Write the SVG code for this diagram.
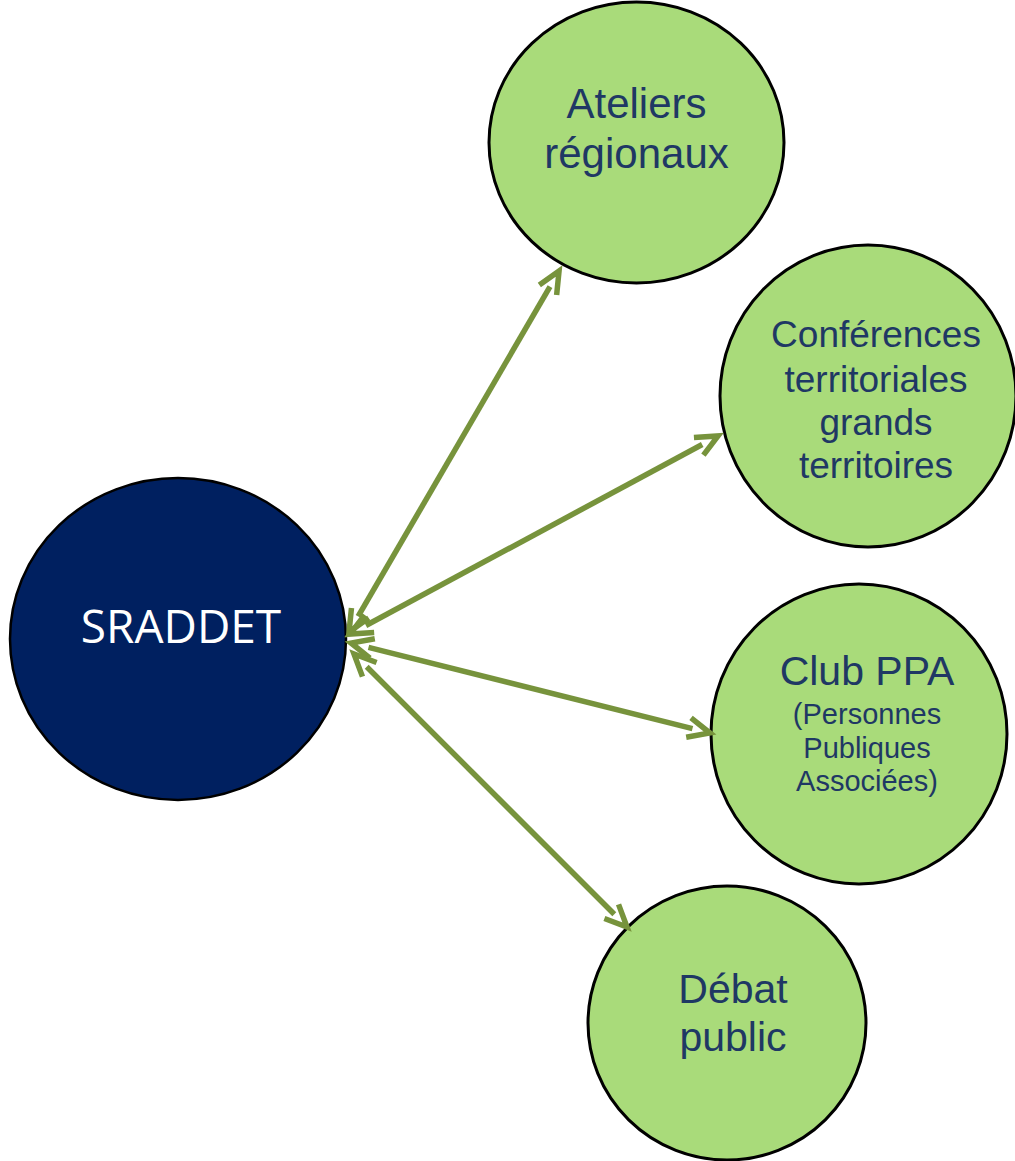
<svg xmlns="http://www.w3.org/2000/svg" width="1015" height="1161" viewBox="0 0 1015 1161">
<defs>
<style>
.green{fill:#A9DB7A;stroke:#000;stroke-width:3}
.navy{fill:#002060;stroke:#000;stroke-width:2.5}
.lbl{font-family:"Liberation Sans",Arial,sans-serif;fill:#1F3864;text-anchor:middle}
.main{font-family:"Open Sans","Liberation Sans",sans-serif;fill:#FFFFFF;text-anchor:middle}
.conn{fill:none;stroke:#77933C;stroke-width:5.5;marker-start:url(#v);marker-end:url(#v)}
</style>
<marker id="v" markerUnits="userSpaceOnUse" viewBox="-30 -15 40 30" markerWidth="40" markerHeight="30" refX="-18" refY="0" orient="auto-start-reverse" overflow="visible">
<path d="M-22,-10 L0,0 L-22,10" fill="none" stroke="#77933C" stroke-width="5.5"/>
</marker>
</defs>
<rect width="1015" height="1161" fill="#FFFFFF"/>
<g id="sraddet">
<ellipse class="navy" cx="178" cy="639" rx="168" ry="161"/>
<text class="main" x="181" y="643" font-size="46">SRADDET</text>
</g>
<g id="ateliers">
<ellipse class="green" cx="636.5" cy="142.5" rx="147.5" ry="140.5"/>
<text class="lbl" x="636.5" y="118" font-size="42">Ateliers</text>
<text class="lbl" x="636.5" y="168" font-size="42">régionaux</text>
</g>
<g id="conferences">
<ellipse class="green" cx="868" cy="396" rx="148" ry="151"/>
<text class="lbl" x="876" y="347" font-size="37">Conférences</text>
<text class="lbl" x="876" y="392" font-size="37">territoriales</text>
<text class="lbl" x="876" y="435" font-size="37">grands</text>
<text class="lbl" x="876" y="478" font-size="37">territoires</text>
</g>
<g id="clubppa">
<ellipse class="green" cx="859" cy="734" rx="148" ry="150"/>
<text class="lbl" x="867" y="685" font-size="41">Club PPA</text>
<text class="lbl" x="867" y="724" font-size="29">(Personnes</text>
<text class="lbl" x="867" y="758" font-size="29">Publiques</text>
<text class="lbl" x="867" y="791" font-size="29">Associées)</text>
</g>
<g id="debat">
<ellipse class="green" cx="727" cy="1023" rx="139" ry="137"/>
<text class="lbl" x="733" y="1003" font-size="41">Débat</text>
<text class="lbl" x="733" y="1051" font-size="41">public</text>
</g>
<g id="connectors">
<path class="conn" d="M358.1,616.4 L550,286.6"/>
<path class="conn" d="M365.9,625.5 L702.2,444.5"/>
<path class="conn" d="M368.5,647.4 L692.5,728.6"/>
<path class="conn" d="M366.7,666.7 L614.3,914.3"/>
</g>
</svg>
